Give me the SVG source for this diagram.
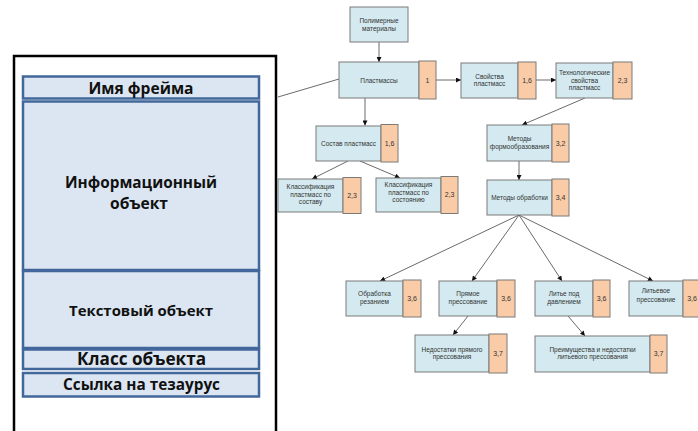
<svg xmlns="http://www.w3.org/2000/svg" width="698" height="431" viewBox="0 0 698 431">
  <style>
    .frame { fill: #ffffff; stroke: #000000; stroke-width: 2.5; }
    .slot { fill: #dce6f2; stroke: #41679b; stroke-width: 2.5; }
    .slot-text { font-family: "Open Sans", "Noto Sans", "DejaVu Sans", sans-serif; font-weight: bold; fill: #111111; text-anchor: middle; }
    .box { fill: #d4eaf0; stroke: #7a7a7a; stroke-width: 1; }
    .tab { fill: #f9cba7; stroke: #7a7a7a; stroke-width: 1; }
    .lbl { font-family: "Liberation Sans", Arial, sans-serif; font-size: 6.5px; fill: #333333; text-anchor: middle; }
    .num { font-family: "Liberation Sans", Arial, sans-serif; font-size: 7px; fill: #333333; text-anchor: middle; }
    .link { stroke: #444444; stroke-width: 0.8; fill: none; }
    .arrow { marker-end: url(#head); }
  </style>
  <defs>
    <marker id="head" viewBox="0 0 10 10" refX="10" refY="5" markerWidth="6" markerHeight="5" markerUnits="userSpaceOnUse" orient="auto">
      <path d="M0,0 L10,5 L0,10 z" fill="#111111"/>
    </marker>
  </defs>

  <rect width="698" height="431" fill="#ffffff"/>

  <!-- frame structure -->
  <g id="frame">
    <rect class="frame" x="14" y="56" width="262" height="400"/>
    <g id="slot-name">
      <rect class="slot" x="23" y="76.5" width="236" height="22"/>
      <text class="slot-text" x="141" y="93.5" font-size="16" textLength="105" lengthAdjust="spacingAndGlyphs">Имя фрейма</text>
    </g>
    <g id="slot-info">
      <rect class="slot" x="23" y="101.5" width="236" height="168.5"/>
      <text class="slot-text" x="141" y="187.5" font-size="16" textLength="152" lengthAdjust="spacingAndGlyphs">Информационный</text>
      <text class="slot-text" x="139" y="208.5" font-size="16" textLength="58" lengthAdjust="spacingAndGlyphs">объект</text>
    </g>
    <g id="slot-text">
      <rect class="slot" x="23" y="271" width="236" height="77"/>
      <text class="slot-text" x="141" y="315.5" font-size="15" textLength="144" lengthAdjust="spacingAndGlyphs">Текстовый объект</text>
    </g>
    <g id="slot-class">
      <rect class="slot" x="23" y="349.5" width="236" height="19.5"/>
      <text class="slot-text" x="141.5" y="365" font-size="18" textLength="129" lengthAdjust="spacingAndGlyphs">Класс объекта</text>
    </g>
    <g id="slot-thesaurus">
      <rect class="slot" x="23" y="373" width="236" height="23.5"/>
      <text class="slot-text" x="141.5" y="390" font-size="15.5" textLength="157" lengthAdjust="spacingAndGlyphs">Ссылка на тезаурус</text>
    </g>
  </g>

  <!-- connectors -->
  <g id="connectors">
    <line class="link" x1="278" y1="97" x2="339" y2="79"/>
    <line class="link arrow" x1="379" y1="42" x2="379" y2="62"/>
    <line class="link arrow" x1="436" y1="80" x2="461" y2="80"/>
    <line class="link arrow" x1="536" y1="80" x2="556" y2="80"/>
    <line class="link arrow" x1="585" y1="98" x2="522" y2="125"/>
    <line class="link arrow" x1="365" y1="98" x2="365" y2="125.5"/>
    <line class="link arrow" x1="348" y1="161" x2="312" y2="179"/>
    <line class="link arrow" x1="360" y1="161" x2="400" y2="178"/>
    <line class="link arrow" x1="519" y1="161" x2="519" y2="180"/>
    <line class="link arrow" x1="519" y1="215" x2="380" y2="281"/>
    <line class="link arrow" x1="519" y1="215" x2="472" y2="281"/>
    <line class="link arrow" x1="519" y1="215" x2="562" y2="281"/>
    <line class="link arrow" x1="519" y1="215" x2="653" y2="281"/>
    <line class="link arrow" x1="468" y1="316" x2="453" y2="335"/>
    <line class="link arrow" x1="568" y1="316" x2="585" y2="336"/>
  </g>

  <!-- concept nodes -->
  <g id="n-polymers">
    <rect class="box" x="350" y="7" width="58" height="35"/>
    <text class="lbl" x="379" y="22.5">Полимерные</text>
    <text class="lbl" x="379" y="30.5">материалы</text>
  </g>
  <g id="n-plastics">
    <rect class="box" x="339" y="62" width="80" height="36"/>
    <rect class="tab" x="419" y="61" width="17" height="38"/>
    <text class="lbl" x="379" y="82.5">Пластмассы</text>
    <text class="num" x="427.5" y="82.5">1</text>
  </g>
  <g id="n-properties">
    <rect class="box" x="461" y="63" width="57" height="35"/>
    <rect class="tab" x="518" y="62" width="18" height="37"/>
    <text class="lbl" x="489.5" y="78.5">Свойства</text>
    <text class="lbl" x="489.5" y="86">пластмасс</text>
    <text class="num" x="527" y="82.5">1,6</text>
  </g>
  <g id="n-tech-properties">
    <rect class="box" x="556" y="63" width="57" height="35"/>
    <rect class="tab" x="613" y="62" width="19" height="37"/>
    <text class="lbl" x="584.5" y="75">Технологические</text>
    <text class="lbl" x="584.5" y="82.5">свойства</text>
    <text class="lbl" x="584.5" y="90">пластмасс</text>
    <text class="num" x="622.5" y="82.5">2,3</text>
  </g>
  <g id="n-composition">
    <rect class="box" x="316" y="126" width="65" height="35"/>
    <rect class="tab" x="381" y="124.5" width="17" height="37.5"/>
    <text class="lbl" x="348.5" y="145.5">Состав пластмасс</text>
    <text class="num" x="389.5" y="145.5">1,6</text>
  </g>
  <g id="n-class-composition">
    <rect class="box" x="278" y="179" width="65" height="33"/>
    <rect class="tab" x="343" y="177.5" width="18" height="36"/>
    <text class="lbl" x="310.5" y="189">Классификация</text>
    <text class="lbl" x="310.5" y="196.5">пластмасс по</text>
    <text class="lbl" x="310.5" y="204">составу</text>
    <text class="num" x="352" y="197.5">2,3</text>
  </g>
  <g id="n-class-state">
    <rect class="box" x="376" y="178" width="65" height="34"/>
    <rect class="tab" x="441" y="176.5" width="17" height="37"/>
    <text class="lbl" x="408.5" y="187">Классификация</text>
    <text class="lbl" x="408.5" y="194.5">пластмасс по</text>
    <text class="lbl" x="408.5" y="202">состоянию</text>
    <text class="num" x="449.5" y="197">2,3</text>
  </g>
  <g id="n-forming">
    <rect class="box" x="487" y="125" width="65" height="36"/>
    <rect class="tab" x="552" y="124" width="17" height="38"/>
    <text class="lbl" x="519.5" y="140.5">Методы</text>
    <text class="lbl" x="519.5" y="148.5">формообразования</text>
    <text class="num" x="560.5" y="145.5">3,2</text>
  </g>
  <g id="n-processing">
    <rect class="box" x="487" y="180" width="65" height="35"/>
    <rect class="tab" x="552" y="179" width="17" height="37"/>
    <text class="lbl" x="519.5" y="199.5">Методы обработки</text>
    <text class="num" x="560.5" y="199.5">3,4</text>
  </g>
  <g id="n-cutting">
    <rect class="box" x="346" y="281" width="57" height="35"/>
    <rect class="tab" x="403" y="280" width="18" height="37"/>
    <text class="lbl" x="374.5" y="295.5">Обработка</text>
    <text class="lbl" x="374.5" y="303.5">резанием</text>
    <text class="num" x="412" y="300.5">3,6</text>
  </g>
  <g id="n-direct-pressing">
    <rect class="box" x="439" y="281" width="58" height="35"/>
    <rect class="tab" x="497" y="280" width="18" height="37"/>
    <text class="lbl" x="468" y="295.5">Прямое</text>
    <text class="lbl" x="468" y="303.5">прессование</text>
    <text class="num" x="506" y="300.5">3,6</text>
  </g>
  <g id="n-die-casting">
    <rect class="box" x="535" y="281" width="58" height="35"/>
    <rect class="tab" x="593" y="280" width="17" height="37"/>
    <text class="lbl" x="564" y="295.5">Литье под</text>
    <text class="lbl" x="564" y="303.5">давлением</text>
    <text class="num" x="601.5" y="300.5">3,6</text>
  </g>
  <g id="n-transfer-pressing">
    <rect class="box" x="629" y="281" width="54" height="35"/>
    <rect class="tab" x="683" y="280" width="18" height="37"/>
    <text class="lbl" x="656" y="293">Литьевое</text>
    <text class="lbl" x="656" y="301.5">прессование</text>
    <text class="num" x="692" y="300.5">3,6</text>
  </g>
  <g id="n-direct-drawbacks">
    <rect class="box" x="415" y="335" width="74" height="37"/>
    <rect class="tab" x="489" y="334" width="18" height="39"/>
    <text class="lbl" x="452" y="351.5">Недостатки прямого</text>
    <text class="lbl" x="452" y="359">прессования</text>
    <text class="num" x="498" y="356">3,7</text>
  </g>
  <g id="n-transfer-proscons">
    <rect class="box" x="535" y="336" width="115" height="36"/>
    <rect class="tab" x="650" y="335" width="17" height="38"/>
    <text class="lbl" x="592.5" y="351.5">Преимущества и недостатки</text>
    <text class="lbl" x="592.5" y="359">литьевого прессования</text>
    <text class="num" x="658.5" y="356">3,7</text>
  </g>
</svg>
